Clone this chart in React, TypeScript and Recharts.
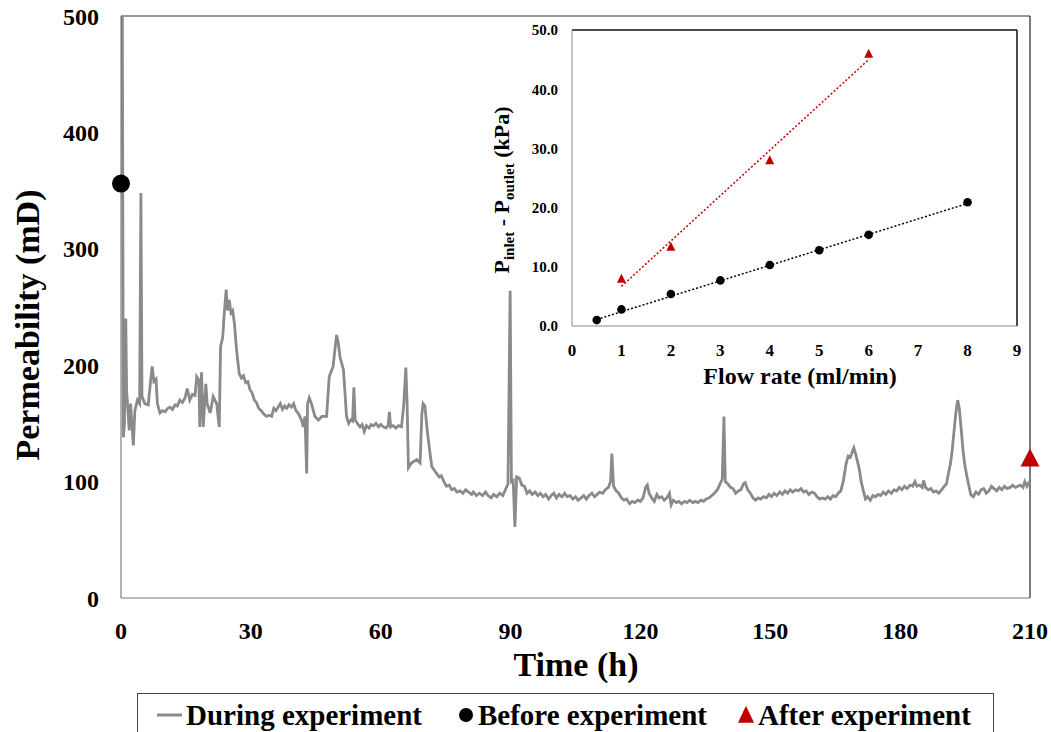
import React from 'react';
import {
  ComposedChart,
  Line,
  Scatter,
  XAxis,
  YAxis,
  ReferenceLine,
} from 'recharts';

// permeability during the run: time (h) and permeability (mD), written segment by segment
const timeH = [
  0.3, 0.55, 0.8, 1.1, 1.3, 1.9, 2.2, 2.85, 3.2, 3.8, 4.3, 4.6, 4.85, 5.5, 6.3, 6.85, 7.2, 7.6, 8.1, 8.4,
  9.0, 9.6, 10.2, 10.8, 11.3, 11.9, 12.5, 13.0, 13.6, 14.2, 14.8, 15.3, 15.9, 16.5, 17.1, 17.5, 18.0, 18.2, 18.6, 19.0, 19.6, 19.9, 20.6, 21.3, 22.1, 22.7, 23.0, 23.5, 23.8, 24.3, 24.6, 25.0, 25.4, 25.8, 26.2, 26.7,
  27.3, 27.8, 28.3, 28.8, 29.3, 29.8, 30.3, 30.8, 31.3, 31.8, 32.4, 33.0, 33.6, 34.2, 34.8, 35.3, 35.8, 36.3, 36.8, 37.3, 37.8, 38.3, 38.8, 39.4, 39.9, 40.4, 40.9, 41.3, 41.8, 42.1, 42.5, 42.9, 43.1, 43.5, 44.0, 44.8, 45.6, 46.4, 47.5, 48.1, 49.0, 49.8, 50.2, 50.6, 51.4,
  52.1, 52.6, 53.1, 53.5, 53.8, 54.1, 54.6, 55.2, 55.7, 56.2, 56.7, 57.3, 57.8, 58.3, 58.9, 59.5, 60.0, 60.6, 61.2, 61.7, 62.0, 62.3, 62.9, 63.5, 64.1, 64.8, 65.3, 65.8, 66.1, 66.4, 67.1, 68.3, 69.1, 69.5, 69.8, 70.2, 70.8, 71.4, 71.8,
  72.9, 73.5, 74.0, 74.6, 75.2, 75.8, 76.4, 77.0, 77.6, 78.3, 79.0, 79.6, 80.3, 81.0, 81.4, 82.1, 82.8, 83.5, 84.2, 84.8, 85.5, 86.1, 86.8, 87.5, 88.2, 88.8, 89.4, 89.9, 90.2, 90.6, 91.0, 91.4,
  92.0, 92.6, 93.2, 93.8, 94.4, 95.0, 95.7, 96.3, 96.9, 97.5, 98.1, 98.8, 99.4, 100.0, 100.6, 101.2, 101.9, 102.5, 103.1, 103.7, 104.4, 105.0, 105.6, 106.3, 106.9, 107.5, 108.1, 108.8, 109.4, 110.0, 110.6, 111.3, 111.9, 112.6, 113.1, 113.4, 113.8, 114.4, 115.0, 115.6, 116.2, 116.8, 117.5, 118.1, 118.7, 119.4, 120.0, 120.6, 121.2, 121.6, 122.0, 122.6, 123.2, 123.8, 124.3, 124.9, 125.5, 126.1, 126.7, 127.1, 127.6, 128.3, 128.9, 129.5, 130.2, 130.8, 131.4, 132.1, 132.7, 133.3, 134.0, 134.6, 135.2, 135.9, 136.5, 137.1, 137.8, 138.4, 138.9,
  139.3, 139.6, 140.2, 140.8, 141.4, 142.0, 142.6, 143.2, 143.8, 144.2, 144.8, 145.4, 146.0, 146.6, 147.2, 147.8, 148.4, 149.1, 149.7, 150.3, 150.9, 151.5, 152.2, 152.8, 153.4, 154.0, 154.6, 155.2, 155.9, 156.5, 157.1, 157.7, 158.3, 158.9, 159.6, 160.2, 160.8, 161.4, 162.0, 162.7, 163.3, 163.9, 164.5, 165.1, 165.7, 166.3, 166.9, 167.5, 168.0, 168.5, 168.9, 169.3, 169.7, 170.1, 170.6, 171.0, 171.5,
  172.0, 172.5, 173.1, 173.7, 174.3, 174.9, 175.5, 176.1, 176.7, 177.3, 178.0, 178.6, 179.2, 179.8, 180.4, 181.0, 181.6, 182.3, 182.9, 183.4, 183.9, 184.5, 185.1, 185.4, 185.9, 186.5, 187.1, 187.7, 188.3, 188.9, 189.6, 190.2, 190.7, 191.1, 191.6, 192.0, 192.5, 192.9, 193.3, 193.7, 194.1, 194.6, 195.0, 195.4, 195.9, 196.3, 196.9, 197.5, 198.1, 198.7, 199.3, 199.9, 200.5, 201.1, 201.7, 202.3, 202.9, 203.5, 204.1, 204.7, 205.4, 206.0, 206.6, 207.2, 207.8, 208.4, 208.8, 209.3, 209.7, 210,
];
const permeability = [
  520, 138, 150, 240, 178, 144, 167, 131, 161, 170, 167, 348, 173, 167, 166, 187, 199, 186, 188, 167,
  159, 161, 160, 163, 164, 162, 166, 165, 170, 168, 172, 180, 170, 175, 174, 190, 187, 147, 194, 147, 184, 167, 159, 173, 167, 147, 216, 224, 242, 265, 247, 256, 245, 247, 236, 213,
  193, 189, 191, 185, 186, 179, 176, 170, 168, 163, 161, 158, 156, 157, 156, 163, 161, 164, 167, 162, 165, 163, 166, 164, 167, 161, 159, 156, 152, 147, 156, 107, 167, 172, 167, 156, 153, 156, 156, 190, 199, 226, 219, 207, 196,
  156, 150, 153, 152, 181, 153, 150, 147, 149, 143, 148, 146, 149, 148, 150, 147, 149, 147, 146, 148, 160, 147, 148, 146, 148, 147, 165, 198, 167, 112, 116, 119, 116, 158, 167, 165, 142, 124, 113,
  107, 104, 105, 100, 96, 97, 93, 94, 91, 92, 90, 93, 91, 89, 91, 88, 90, 88, 91, 88, 86, 89, 87, 90, 88, 93, 98, 264, 100, 101, 61, 104,
  103, 97, 96, 90, 92, 89, 91, 88, 90, 87, 89, 85, 88, 90, 86, 89, 87, 90, 87, 88, 85, 87, 84, 86, 88, 85, 88, 90, 87, 89, 91, 90, 93, 95, 100, 124, 96, 92, 90, 86, 84, 85, 81, 83, 82, 84, 83, 86, 95, 97, 90, 86, 83, 89, 86, 87, 84, 86, 90, 80, 84, 82, 83, 81, 83, 82, 84, 82, 83, 82, 84, 83, 85, 86, 88, 90, 93, 98, 102,
  156, 100, 98, 95, 94, 90, 92, 93, 98, 99, 93, 90, 86, 84, 86, 85, 87, 86, 89, 87, 90, 88, 91, 89, 92, 90, 93, 91, 93, 92, 94, 91, 92, 89, 91, 90, 87, 85, 86, 85, 87, 85, 88, 87, 90, 92, 101, 115, 122, 121, 125, 129, 124, 118, 110, 100, 92,
  85, 87, 84, 88, 87, 89, 88, 91, 89, 92, 90, 93, 92, 95, 93, 96, 94, 97, 96, 100, 96, 97, 95, 101, 95, 93, 94, 91, 92, 90, 93, 96, 98, 106, 115, 126, 145, 160, 170, 162, 145, 124, 113, 105, 96, 89, 87, 91, 89, 93, 94, 90, 92, 96, 94, 92, 95, 93, 96, 94, 95, 97, 95, 96, 97, 95, 100, 96, 99, 98,
];
const beforePerm = [{ t: 0, v: 356 }];
const afterPerm = [{ t: 210, v: 120 }];

// inset: pressure drop vs flow rate
const flowBefore = [0.5, 1, 2, 3, 4, 5, 6, 8];
const dpBefore = [1.0, 2.8, 5.4, 7.7, 10.3, 12.8, 15.4, 20.9];
const flowAfter = [1, 2, 4, 6];
const dpAfter = [8.0, 13.4, 28.0, 46.0];
const trendBeforeX = [0.5, 8];
const trendBeforeY = [1.1, 20.7];
const trendAfterX = [1, 6];
const trendAfterY = [6.7, 45.0];

const timeTicks = [0, 30, 60, 90, 120, 150, 180, 210];
const permTicks = [0, 100, 200, 300, 400, 500];
const flowTicks = [0, 1, 2, 3, 4, 5, 6, 7, 8, 9];
const dpTicks = [0, 10, 20, 30, 40, 50];

const FONT = '"Liberation Serif", "Times New Roman", serif';
const GRAY = '#8a8a8a';
const RED = '#c00000';

const mainData = timeH.map((t, i) => ({ t, v: permeability[i] }));
const beforePts = flowBefore.map((x, i) => ({ x, y: dpBefore[i] }));
const afterPts = flowAfter.map((x, i) => ({ x, y: dpAfter[i] }));
const trendBefore = trendBeforeX.map((x, i) => ({ x, y: trendBeforeY[i] }));
const trendAfter = trendAfterX.map((x, i) => ({ x, y: trendAfterY[i] }));

const tri = (cx: number, cy: number, w: number, h: number) =>
  `${cx},${cy - h * 0.55} ${cx + w / 2},${cy + h * 0.45} ${cx - w / 2},${cy + h * 0.45}`;

const BigDot = (p: any) => <circle cx={p.cx} cy={p.cy} r={9} fill="#000" />;
const BigTri = (p: any) => <polygon points={tri(p.cx, p.cy, 19, 18)} fill={RED} />;
const SmallDot = (p: any) => <circle cx={p.cx} cy={p.cy} r={4.3} fill="#000" />;
const SmallTri = (p: any) => <polygon points={tri(p.cx, p.cy, 9, 9)} fill={RED} />;

const txt = (left: number, top: number, size: number, rotate = false): React.CSSProperties => ({
  position: 'absolute',
  left,
  top,
  transform: `translate(-50%, -50%)${rotate ? ' rotate(-90deg)' : ''}`,
  fontFamily: FONT,
  fontWeight: 700,
  fontSize: size,
  lineHeight: 1,
  whiteSpace: 'nowrap',
  color: '#000',
});

export default function App() {
  return (
    <div style={{ position: 'absolute', left: 0, top: 0, width: 1051, height: 732, background: '#fff', overflow: 'hidden' }}>
      <ComposedChart width={1051} height={732} data={mainData} margin={{ top: 16, right: 21, left: 61, bottom: 94 }}>
        <XAxis
          type="number"
          dataKey="t"
          domain={[0, 210]}
          ticks={timeTicks}
          interval={0}
          tickLine={false}
          tickSize={0}
          tickMargin={24}
          height={40}
          axisLine={{ stroke: '#777' }}
          tick={{ fontSize: 24, fontWeight: 700, fill: '#000', fontFamily: FONT }}
        />
        <YAxis
          type="number"
          domain={[0, 500]}
          allowDataOverflow
          ticks={permTicks}
          interval={0}
          tickLine={false}
          tickSize={0}
          tickMargin={22}
          width={60}
          axisLine={{ stroke: '#666' }}
          tick={{ fontSize: 24, fontWeight: 700, fill: '#000', fontFamily: FONT }}
        />
        <ReferenceLine y={500} stroke="#777" strokeWidth={1.5} />
        <ReferenceLine x={210} stroke="#222" strokeWidth={1.2} />
        <Line dataKey="v" stroke={GRAY} strokeWidth={2.8} dot={false} isAnimationActive={false} />
        <Scatter data={beforePerm} dataKey="v" shape={BigDot} isAnimationActive={false} />
        <Scatter data={afterPerm} dataKey="v" shape={BigTri} isAnimationActive={false} />
      </ComposedChart>

      <div style={txt(28, 325, 34, true)}>Permeability (mD)</div>
      <div style={txt(576, 665, 34)}>Time (h)</div>

      <div style={{ position: 'absolute', left: 440, top: 0, width: 600, height: 400 }}>
        <ComposedChart width={600} height={400} margin={{ top: 30, right: 23, left: 72, bottom: 44 }}>
          <XAxis
            type="number"
            dataKey="x"
            domain={[0, 9]}
            ticks={flowTicks}
            interval={0}
            tickLine={false}
            tickSize={0}
            tickMargin={18}
            height={30}
            axisLine={{ stroke: '#888' }}
            tick={{ fontSize: 17, fontWeight: 700, fill: '#000', fontFamily: FONT }}
          />
          <YAxis
            type="number"
            dataKey="y"
            domain={[0, 50]}
            ticks={dpTicks}
            interval={0}
            tickLine={false}
            tickSize={0}
            tickMargin={14}
            width={60}
            tickFormatter={(v: number) => v.toFixed(1)}
            axisLine={{ stroke: '#888' }}
            tick={{ fontSize: 15, fontWeight: 700, fill: '#000', fontFamily: FONT }}
          />
          <ReferenceLine y={50} stroke="#111" strokeWidth={1.5} />
          <ReferenceLine x={9} stroke="#111" strokeWidth={1.5} />
          <Line data={trendBefore} dataKey="y" stroke="#000" strokeWidth={1.5} strokeDasharray="2 2" dot={false} isAnimationActive={false} />
          <Line data={trendAfter} dataKey="y" stroke={RED} strokeWidth={1.5} strokeDasharray="2 2" dot={false} isAnimationActive={false} />
          <Scatter data={beforePts} dataKey="y" shape={SmallDot} isAnimationActive={false} />
          <Scatter data={afterPts} dataKey="y" shape={SmallTri} isAnimationActive={false} />
        </ComposedChart>
      </div>

      <div style={txt(504, 190, 22, true)}>
        P<sub style={{ fontSize: 15 }}>inlet</sub> - P<sub style={{ fontSize: 15 }}>outlet</sub> (kPa)
      </div>
      <div style={txt(800, 376, 24)}>Flow rate (ml/min)</div>

      <div
        style={{
          position: 'absolute',
          left: 137,
          top: 693,
          width: 857,
          height: 50,
          border: '1.5px solid #444',
          boxSizing: 'border-box',
        }}
      />
      <svg style={{ position: 'absolute', left: 0, top: 0 }} width={1051} height={732}>
        <line x1={157} x2={182} y1={715} y2={715} stroke={GRAY} strokeWidth={3} />
        <circle cx={466} cy={715} r={7} fill="#000" />
        <polygon points={tri(746, 715, 16, 17)} fill={RED} />
      </svg>
      <div style={{ ...txt(0, 0, 29), transform: 'none', left: 186, top: 701 }}>During experiment</div>
      <div style={{ ...txt(0, 0, 29), transform: 'none', left: 478, top: 701 }}>Before experiment</div>
      <div style={{ ...txt(0, 0, 29), transform: 'none', left: 758, top: 701 }}>After experiment</div>
    </div>
  );
}
